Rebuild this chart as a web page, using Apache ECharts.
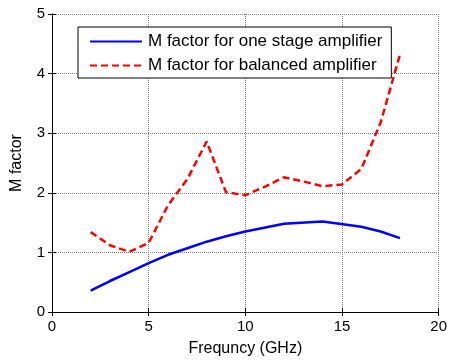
<!DOCTYPE html>
<html>
<head>
<meta charset="utf-8">
<script src="https://cdn.jsdelivr.net/npm/echarts@6/dist/echarts.min.js"></script>
<style>
  html, body { margin: 0; padding: 0; background: #fff; }
  #chart { width: 450px; height: 362px; }
</style>
</head>
<body>
<div id="chart"></div>
<script>
const freqOneStage = [2, 3, 4, 5, 6, 7, 8, 9, 10, 12, 14, 16, 17, 18];
const mOneStage = [0.36, 0.52, 0.67, 0.82, 0.96, 1.07, 1.18, 1.27, 1.35, 1.48, 1.52, 1.43, 1.35, 1.24];
const freqBalanced = [2, 3, 4, 5, 6, 7, 8, 9, 10, 11, 12, 13, 14, 15, 16, 17, 18];
const mBalanced = [1.34, 1.12, 1.01, 1.16, 1.79, 2.23, 2.86, 2.01, 1.96, 2.1, 2.26, 2.19, 2.11, 2.14, 2.4, 3.18, 4.32];
const seriesNames = ["M factor for one stage amplifier", "M factor for balanced amplifier"];

const myChart = echarts.init(document.getElementById("chart"));

const zip = (xs, ys) => xs.map((x, i) => [x, ys[i]]);

const gridLine = {
    show: true,
    lineStyle: { color: "#7a7a7a", type: [1, 1], width: 1 }
};
const boxAxis = {
    axisLine: { show: true, lineStyle: { color: "#000", width: 1 } },
    axisTick: { show: true, inside: true, length: 4, lineStyle: { color: "#000" } },
    axisLabel: { show: false },
    splitLine: { show: false }
};

const option = {
    animation: false,
    textStyle: { fontFamily: "Liberation Sans, Arial, sans-serif" },
    grid: { left: 52, right: 7, top: 14, bottom: 48 },
    legend: {
        orient: "vertical",
        left: 78,
        top: 27,
        padding: [6, 9, 4, 11],
        itemGap: 7,
        itemWidth: 52,
        itemHeight: 17,
        borderColor: "#000",
        borderWidth: 1,
        backgroundColor: "#fff",
        itemStyle: { opacity: 0 },
        textStyle: { fontSize: 17, color: "#000", padding: [0, 0, 0, 1] },
        data: seriesNames
    },
    xAxis: [{
        type: "value",
        min: 0,
        max: 20,
        interval: 5,
        name: "Frequncy (GHz)",
        nameLocation: "middle",
        nameGap: 29,
        nameTextStyle: { fontSize: 16, color: "#000" },
        axisLine: { show: true, onZero: false, lineStyle: { color: "#000", width: 1 } },
        axisTick: { show: true, inside: true, length: 4, lineStyle: { color: "#000" } },
        axisLabel: { fontSize: 15, color: "#000", margin: 7 },
        splitLine: gridLine
    }, Object.assign({
        type: "value", position: "top", min: 0, max: 20, interval: 5
    }, boxAxis)],
    yAxis: [{
        type: "value",
        min: 0,
        max: 5,
        interval: 1,
        name: "M factor",
        nameLocation: "middle",
        nameGap: 27,
        nameTextStyle: { fontSize: 16, color: "#000" },
        axisLine: { show: true, onZero: false, lineStyle: { color: "#000", width: 1 } },
        axisTick: { show: true, inside: true, length: 4, lineStyle: { color: "#000" } },
        axisLabel: { fontSize: 15, color: "#000", margin: 7 },
        splitLine: gridLine
    }, Object.assign({
        type: "value", position: "right", min: 0, max: 5, interval: 1
    }, boxAxis)],
    series: [{
        name: seriesNames[0],
        type: "line",
        symbol: "none",
        color: "#0000ff",
        lineStyle: { color: "#0000ff", width: 2.5 },
        data: zip(freqOneStage, mOneStage)
    }, {
        name: seriesNames[1],
        type: "line",
        symbol: "none",
        color: "#ff0000",
        lineStyle: { color: "#ff0000", width: 2.5, type: [7, 4] },
        data: zip(freqBalanced, mBalanced)
    }]
};

option && myChart.setOption(option);
</script>
</body>
</html>
